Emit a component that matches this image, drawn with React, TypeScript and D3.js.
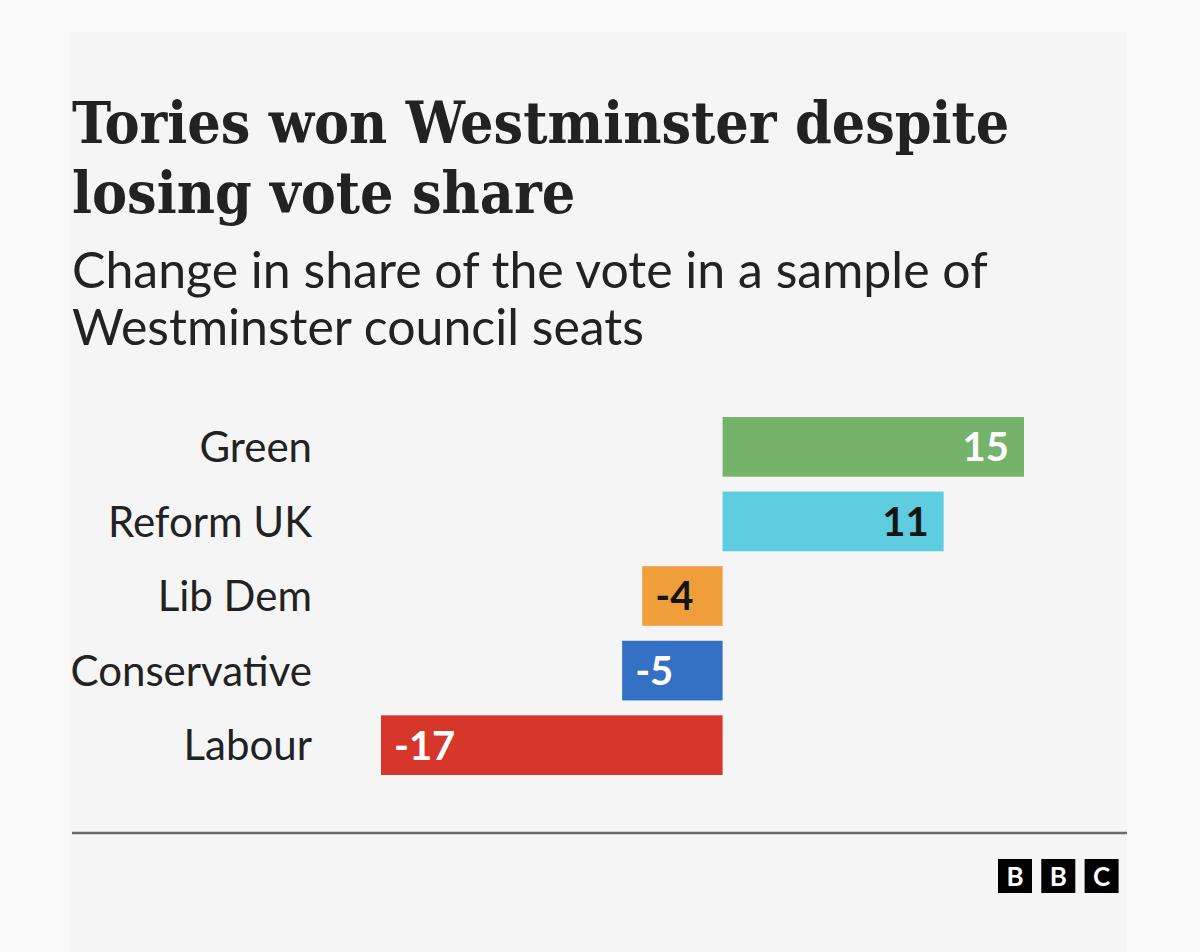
import { useEffect, useMemo } from 'react';
import * as d3 from 'd3';

const parties = ['Green', 'Reform UK', 'Lib Dem', 'Conservative', 'Labour'];
const shareChange = [15, 11, -4, -5, -17];
const barColours = ['#75b26a', '#5ecde0', '#f09e3a', '#3470c4', '#d6372a'];
const valueColours = ['#ffffff', '#141414', '#141414', '#ffffff', '#ffffff'];

const titleLines = ['Tories won Westminster despite', 'losing vote share'];
const subtitleLines = ['Change in share of the vote in a sample of', 'Westminster council seats'];
const logoLetters = ['B', 'B', 'C'];

const W = 1200;
const H = 952;
const LEFT = 72;
const RIGHT = 1127;
const SANS = 'Lato, "Noto Sans", sans-serif';
const SERIF = '"DejaVu Serif", serif';

export default function App() {
  useEffect(() => {
    document.body.style.margin = '0';
  }, []);

  const { x, y } = useMemo(() => {
    const x = d3.scaleLinear().domain([-17, 15]).range([381, 1024]);
    const y = d3.scaleBand<string>().domain(parties).range([417, 775]).paddingInner(0.2).paddingOuter(0);
    return { x, y };
  }, []);

  const labelSize = 42;
  const valueSize = 40;
  const zero = x(0);

  return (
    <svg width={W} height={H} style={{ display: 'block' }}>
      <rect x={0} y={0} width={W} height={H} fill="#f9f9f9" />
      <rect x={70} y={32} width={RIGHT - 70} height={H - 32} fill="#f5f5f5" />

      {titleLines.map((t, i) => (
        <text
          key={t}
          x={LEFT}
          y={143 + i * 70}
          fontFamily={SERIF}
          fontWeight={700}
          fontSize={58.5}
          fill="#222"
          style={{ fontStretch: 'condensed' }}
        >
          {t}
        </text>
      ))}
      {subtitleLines.map((t, i) => (
        <text key={t} x={LEFT} y={288 + i * 57} fontFamily={SANS} fontSize={50} fill="#222">
          {t}
        </text>
      ))}

      {parties.map((p, i) => {
        const v = shareChange[i];
        const top = y(p) ?? 0;
        const bw = y.bandwidth();
        const mid = top + bw / 2;
        const x0 = Math.min(x(v), zero);
        const x1 = Math.max(x(v), zero);
        return (
          <g key={p}>
            <text
              x={312}
              y={mid + labelSize * 0.36}
              textAnchor="end"
              fontFamily={SANS}
              fontSize={labelSize}
              fill="#222"
            >
              {p}
            </text>
            <rect x={x0} y={top} width={x1 - x0} height={bw} fill={barColours[i]} />
            <text
              x={v >= 0 ? x1 - 15 : x0 + 13}
              y={mid + valueSize * 0.36}
              textAnchor={v >= 0 ? 'end' : 'start'}
              fontFamily={SANS}
              fontWeight={700}
              fontSize={valueSize}
              fill={valueColours[i]}
            >
              {v}
            </text>
          </g>
        );
      })}

      <line x1={LEFT} x2={RIGHT} y1={833} y2={833} stroke="#6b6b6b" strokeWidth={2.5} />

      {logoLetters.map((l, i) => (
        <g key={i} transform={`translate(${998 + i * 43.3},859)`}>
          <rect width={34} height={34} fill="#000" />
          <text
            x={17}
            y={17 + 9.5}
            textAnchor="middle"
            fontFamily={SANS}
            fontWeight={700}
            fontSize={26}
            fill="#fff"
          >
            {l}
          </text>
        </g>
      ))}
    </svg>
  );
}
